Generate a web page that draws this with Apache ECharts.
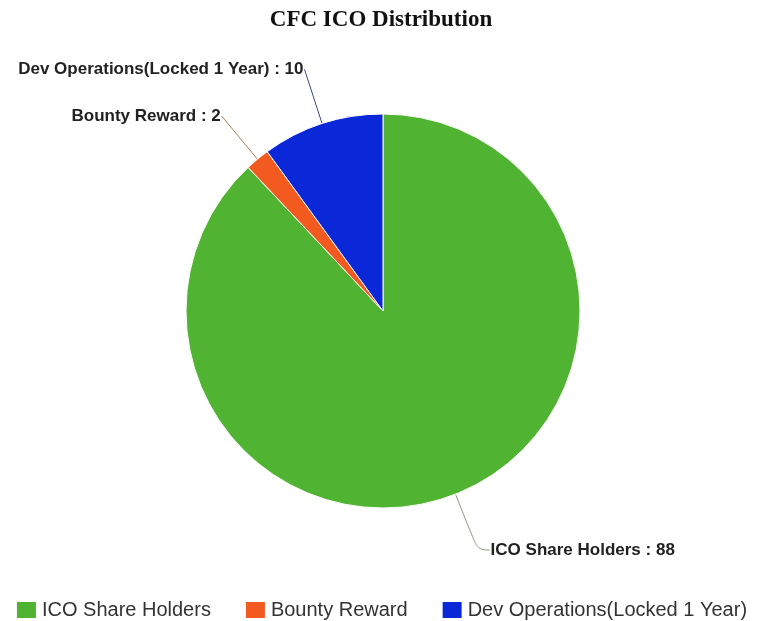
<!DOCTYPE html>
<html>
<head>
<meta charset="utf-8">
<script src="https://cdn.jsdelivr.net/npm/echarts@6/dist/echarts.min.js"></script>
<style>
html,body{margin:0;padding:0;background:#fff;}
#chart{width:762px;height:621px;}
</style>
</head>
<body>
<div id="chart"></div>
<script>
const titleText = 'CFC ICO Distribution';
const categories = ['ICO Share Holders', 'Bounty Reward', 'Dev Operations(Locked 1 Year)'];
const values = [88, 2, 10];
const colors = ['#51b332', '#f25a1f', '#0b28d8'];
const lineColors = ['#8a9a80', '#b08060', '#3a4a80'];
const lineLen = [60, 56, 57];
const lineLen2 = [12, 0, 0];

const chart = echarts.init(document.getElementById('chart'));
chart.setOption({
  animation: false,
  backgroundColor: '#ffffff',
  title: {
    text: titleText,
    left: 'center',
    top: 4,
    textStyle: {fontFamily: 'Liberation Serif', fontWeight: 'bold', fontSize: 23, color: '#111'}
  },
  legend: {
    top: 595,
    left: 'center',
    itemWidth: 21,
    itemHeight: 18,
    itemGap: 33,
    icon: 'rect',
    textStyle: {fontFamily: 'Liberation Sans', fontSize: 20, color: '#333'},
    data: categories
  },
  series: [{
    type: 'pie',
    center: [383, 311],
    radius: 197,
    startAngle: 90,
    clockwise: true,
    itemStyle: {borderColor: '#ffffff', borderWidth: 1},
    label: {
      show: true,
      position: 'outside',
      formatter: '{b} : {c}',
      fontFamily: 'Liberation Sans',
      fontWeight: 'bold',
      fontSize: 17,
      color: '#222',
      overflow: 'none',
      distanceToLabelLine: 1
    },
    labelLine: {show: true, smooth: 0.4, lineStyle: {width: 1}},
    data: categories.map((c, i) => ({
      name: c,
      value: values[i],
      itemStyle: {color: colors[i]},
      labelLine: {length: lineLen[i], length2: lineLen2[i], lineStyle: {color: lineColors[i]}}
    }))
  }]
});
</script>
</body>
</html>
